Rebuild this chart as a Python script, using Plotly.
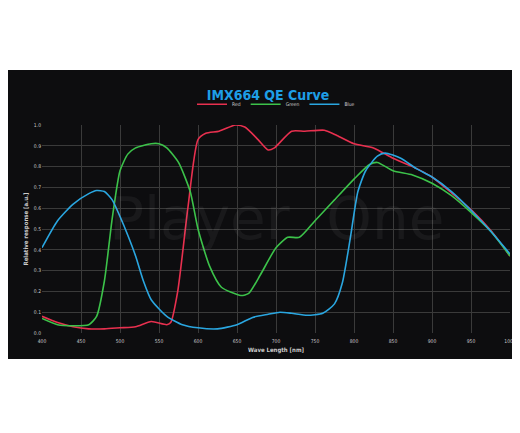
import plotly.graph_objects as go

red_x = [400, 420, 440, 460, 480, 500, 520, 540, 560, 565, 574, 587, 600, 610, 627, 648, 660,
         677, 690, 698, 720, 737, 762, 778, 800, 825, 850, 875, 900, 926, 951, 976, 1000]
red_y = [0.08, 0.05, 0.03, 0.02, 0.02, 0.025, 0.03, 0.055, 0.04, 0.05, 0.2, 0.6, 0.93, 0.96,
         0.97, 1.0, 0.99, 0.93, 0.88, 0.89, 0.97, 0.97, 0.975, 0.95, 0.91, 0.89, 0.84, 0.80,
         0.75, 0.67, 0.59, 0.49, 0.37]

green_x = [400, 420, 440, 460, 470, 480, 490, 500, 510, 520, 540, 550, 560, 575, 590, 600, 615,
           630, 655, 665, 680, 700, 715, 730, 750, 775, 800, 820, 830, 850, 875, 900, 925, 950,
           975, 1000]
green_y = [0.07, 0.04, 0.035, 0.04, 0.08, 0.25, 0.55, 0.78, 0.86, 0.89, 0.91, 0.91, 0.89, 0.82,
           0.68, 0.50, 0.32, 0.22, 0.18, 0.19, 0.28, 0.41, 0.46, 0.46, 0.54, 0.64, 0.74, 0.81,
           0.82, 0.78, 0.76, 0.72, 0.66, 0.58, 0.49, 0.37]

blue_x = [400, 420, 440, 460, 470, 480, 490, 500, 510, 520, 530, 540, 560, 580, 600, 625, 650,
          670, 690, 705, 720, 740, 760, 775, 785, 795, 805, 815, 830, 840, 860, 880, 900, 925,
          950, 975, 1000]
blue_y = [0.41, 0.54, 0.62, 0.67, 0.685, 0.68, 0.64, 0.56, 0.47, 0.37, 0.25, 0.16, 0.08, 0.04,
          0.025, 0.02, 0.04, 0.075, 0.09, 0.10, 0.095, 0.085, 0.095, 0.14, 0.24, 0.45, 0.68,
          0.78, 0.85, 0.865, 0.84, 0.79, 0.75, 0.68, 0.59, 0.49, 0.38]

x_ticks = list(range(400, 1001, 50))
y_ticks = [i / 10 for i in range(11)]

font = "DejaVu Sans Condensed"

fig = go.Figure()
for name, xs, ys, col in [("Red", red_x, red_y, "#e8304f"),
                          ("Green", green_x, green_y, "#3cc24a"),
                          ("Blue", blue_x, blue_y, "#2aa6e0")]:
    fig.add_trace(go.Scatter(x=xs, y=ys, name=name, mode="lines",
                             line=dict(color=col, width=1.6, shape="spline", smoothing=0.6)))

# black band behind the chart
fig.add_shape(type="rect", xref="paper", yref="paper", x0=-0.08, x1=1.04, y0=-0.125, y1=1.265,
              fillcolor="#0d0d0f", line_width=0, layer="below")
fig.add_annotation(text="Player  One", x=0.5, y=0.55, xref="paper", yref="paper", showarrow=False,
                   font=dict(family="DejaVu Sans", size=58, color="rgba(255,255,255,0.05)"))

fig.update_layout(
    width=520, height=433,
    paper_bgcolor="white", plot_bgcolor="#0d0d0f",
    margin=dict(l=34, r=12, t=117, b=108),
    font=dict(family=font, color="#cccccc", size=5),
    title=dict(text="<b>IMX664 QE Curve</b>", x=0.5, xanchor="center", y=0.8, yanchor="middle",
               font=dict(family=font, size=14, color="#1e9ee6")),
    showlegend=True,
    legend=dict(orientation="h", x=0.5, xanchor="center", y=1.03, yanchor="bottom",
                font=dict(size=5, color="#cccccc"), bgcolor="rgba(0,0,0,0)", itemwidth=30),
    xaxis=dict(range=[400, 1000], tickvals=x_ticks, showgrid=True, gridcolor="#3a3a3a",
               gridwidth=0.6, zeroline=False, showline=False, ticks="", ticklabelstandoff=4,
               title=dict(text="<b>Wave Length [nm]</b>", font=dict(size=6, color="#cccccc"), standoff=4)),
    yaxis=dict(range=[0, 1.0], tickvals=y_ticks, tickformat=".1f", showgrid=True,
               gridcolor="#3a3a3a", gridwidth=0.6, zeroline=False, showline=False, ticks="",
               title=dict(text="<b>Relative response [a.u.]</b>", font=dict(size=6, color="#cccccc"), standoff=4)),
)

fig.write_html("out.html")
